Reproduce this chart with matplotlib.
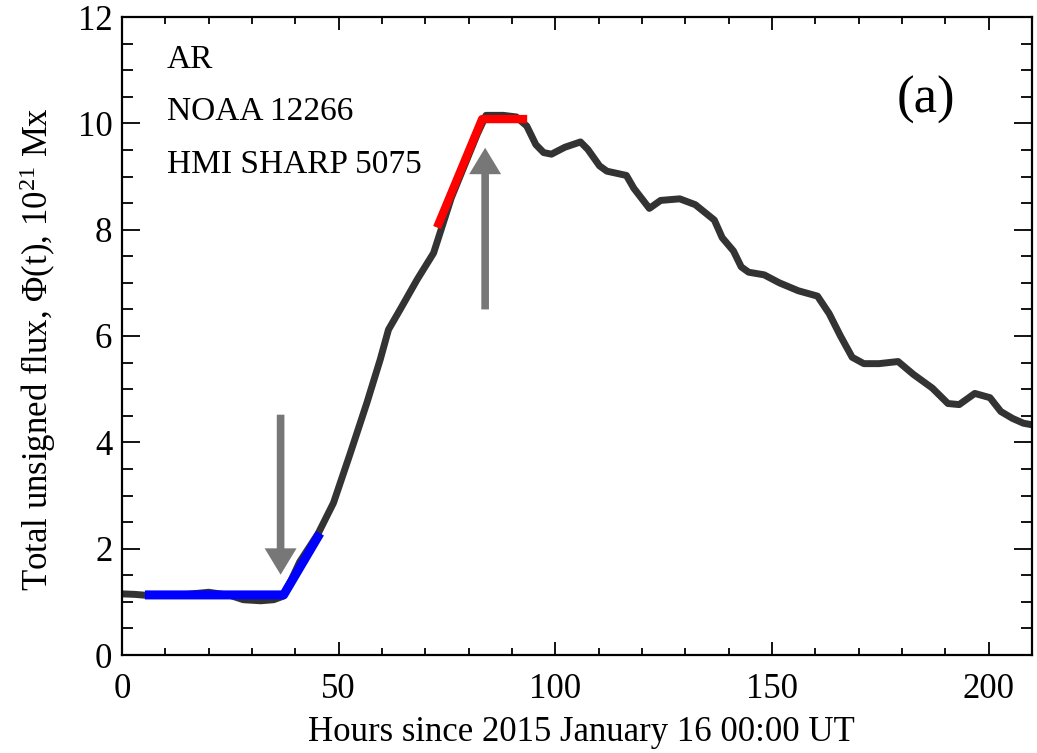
import matplotlib
matplotlib.use("Agg")
import matplotlib.pyplot as plt
from matplotlib.patches import FancyArrowPatch
from matplotlib.ticker import MultipleLocator

plt.rcParams['font.family'] = ['Liberation Serif', 'DejaVu Serif']
plt.rcParams['mathtext.fontset'] = 'custom'
plt.rcParams['mathtext.rm'] = 'Liberation Serif'
plt.rcParams['mathtext.it'] = 'Liberation Serif:italic'

# ---- data ----
hours = [0, 3, 6, 10, 15, 20, 25, 28, 32, 35, 37, 39, 41, 43, 45.3, 48.8, 52.7,
         56.5, 59.6, 61.5, 64.2, 68.1, 71.9, 73.4, 76, 79, 82, 84, 88, 91, 93.4,
         95.5, 97.3, 99.1, 102.2, 105.8, 107.5, 110.2, 111.9, 116.4, 118.1,
         121.7, 124.3, 128.7, 132.3, 136.7, 138.5, 141.1, 142.9, 144.6, 148.2,
         151.7, 156.1, 160.5, 163.2, 165.8, 168.5, 171.2, 174.7, 179.1, 182.6,
         187.0, 190.6, 193.2, 196.8, 200.3, 202.8, 205.5, 208, 210]
flux = [1.15, 1.14, 1.12, 1.13, 1.14, 1.18, 1.12, 1.04, 1.02, 1.04, 1.1, 1.4, 1.75,
        2.0, 2.29, 2.86, 3.80, 4.74, 5.56, 6.12, 6.50, 7.06, 7.56, 7.94, 8.6,
        9.2, 9.8, 10.15, 10.15, 10.12, 9.95, 9.6, 9.45, 9.42, 9.55, 9.65, 9.51,
        9.2, 9.1, 9.02, 8.78, 8.40, 8.55, 8.58, 8.47, 8.18, 7.85, 7.6, 7.3,
        7.2, 7.15, 7.0, 6.85, 6.75, 6.42, 6.0, 5.6, 5.48, 5.48, 5.52, 5.28,
        5.02, 4.73, 4.71, 4.92, 4.84, 4.58, 4.45, 4.36, 4.33]

fit_start_hours = [5.3, 37.3, 45.7]
fit_start_flux = [1.13, 1.13, 2.29]

fit_peak_hours = [72.7, 83.1, 93.5]
fit_peak_flux = [8.04, 10.08, 10.08]

annot_lines = ["AR", "NOAA 12266", "HMI SHARP 5075"]

# ---- figure ----
fig = plt.figure(figsize=(10.37, 7.53), dpi=100)
ax = fig.add_axes([122 / 1037, 1 - 655 / 753, 910 / 1037, 638 / 753])

ax.plot(hours, flux, color='#333333', lw=5.0, solid_joinstyle='round', zorder=2)
ax.plot(fit_start_hours, fit_start_flux, color='#0000ff', lw=6.5,
        solid_capstyle='butt', zorder=3)
ax.plot(fit_peak_hours, fit_peak_flux, color='#ff0000', lw=6.0,
        solid_capstyle='butt', zorder=3)

arrow_style = 'simple,head_length=19,head_width=23,tail_width=5.5'
down_arrow = FancyArrowPatch((36.6, 4.52), (36.6, 1.51), arrowstyle=arrow_style,
                             color='#777777', shrinkA=0, shrinkB=0,
                             mutation_scale=1, lw=0, zorder=4)
up_arrow = FancyArrowPatch((83.8, 6.50), (83.8, 9.54), arrowstyle=arrow_style,
                           color='#777777', shrinkA=0, shrinkB=0,
                           mutation_scale=1, lw=0, zorder=4)
ax.add_patch(down_arrow)
ax.add_patch(up_arrow)

ax.set_xlim(0, 210)
ax.set_ylim(0, 12)
ax.xaxis.set_major_locator(MultipleLocator(50))
ax.xaxis.set_minor_locator(MultipleLocator(10))
ax.yaxis.set_major_locator(MultipleLocator(2))
ax.yaxis.set_minor_locator(MultipleLocator(0.5))

ax.tick_params(axis='both', which='both', direction='in', top=True, right=True,
               width=1.3, colors='black', labelsize=25)
ax.tick_params(axis='x', which='major', length=9.5, pad=13)
ax.tick_params(axis='x', which='minor', length=4.8)
ax.tick_params(axis='y', which='major', length=13, pad=7)
ax.tick_params(axis='y', which='minor', length=8)
for sp in ax.spines.values():
    sp.set_linewidth(1.6)

ax.set_xlabel("Hours since 2015 January 16 00:00 UT", fontsize=25, va='center')
ax.xaxis.set_label_coords(0.505, -0.122)
ax.set_ylabel("Total unsigned flux, \u03a6(t), 10$^{21}$ Mx", fontsize=25,
              va='center')
ax.yaxis.set_label_coords(-0.093, 0.48)

text_y = [60, 112, 165]
for t, yp in zip(annot_lines, text_y):
    ax.text((167 - 122) / 910, 1 - (yp - 17) / 638, t, transform=ax.transAxes,
            fontsize=24, ha='left', va='center')

ax.text((926 - 122) / 910, 1 - (100 - 17) / 638, "(a)", transform=ax.transAxes,
        fontsize=38, ha='center', va='center')

fig.savefig("out.png", dpi=100)
